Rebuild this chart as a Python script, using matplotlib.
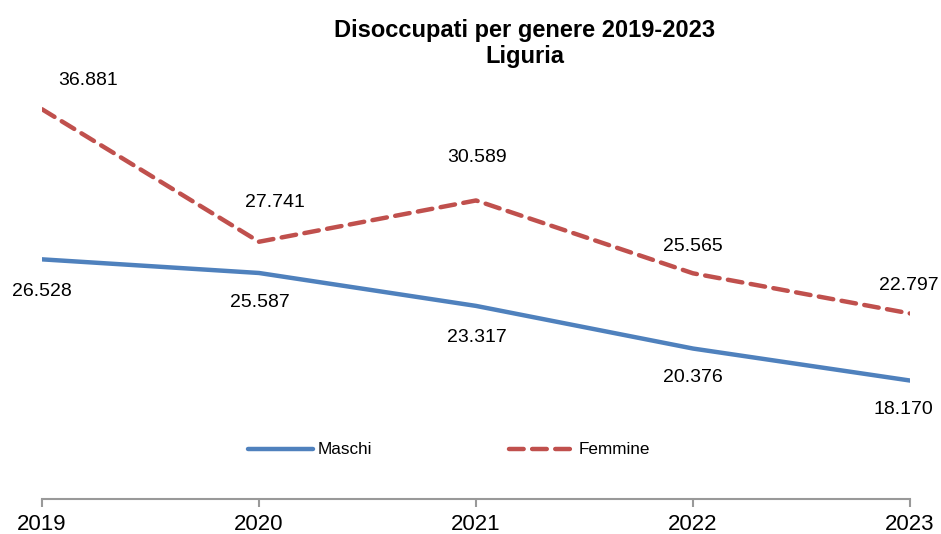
import matplotlib.pyplot as plt

plt.rcParams['font.family'] = ['Liberation Sans', 'DejaVu Sans']

# Disoccupati in Liguria per genere
anni = [2019, 2020, 2021, 2022, 2023]
maschi = [26528, 25587, 23317, 20376, 18170]
femmine = [36881, 27741, 30589, 25565, 22797]

def fmt(v):
    return f"{v:,}".replace(",", ".")

fig = plt.figure(figsize=(9.41, 5.34), dpi=100)
ax = fig.add_axes([42 / 941, 35 / 534, 868 / 941, 493 / 534])

ax.plot(anni, maschi, color='#4F81BD', lw=3.2, solid_capstyle='round', label='Maschi')
ax.plot(anni, femmine, color='#C0504D', lw=3.2, dashes=(3.3, 1.9), dash_capstyle='round',
        label='Femmine')

# etichette dei valori (spostamenti in pixel)
off_m = [(0, -32), (1, -30), (1, -32), (0, -29), (-7, -29)]
off_f = [(46, 29), (16, 39), (1, 43), (0, 27), (-1, 28)]
for x, v, o in zip(anni, maschi, off_m):
    ax.annotate(fmt(v), (x, v), xytext=o, textcoords='offset pixels',
                ha='center', va='center', fontsize=14)
for x, v, o in zip(anni, femmine, off_f):
    ax.annotate(fmt(v), (x, v), xytext=o, textcoords='offset pixels',
                ha='center', va='center', fontsize=14)

ax.set_xlim(2019, 2023)
ax.set_ylim(10000, 44000)
ax.set_xticks(anni)
ax.set_yticks([])
for s in ['top', 'right', 'left']:
    ax.spines[s].set_visible(False)
ax.spines['bottom'].set_color('#999999')
ax.spines['bottom'].set_linewidth(1.5)
ax.tick_params(axis='x', length=6, width=1.5, color='#999999', labelsize=16, pad=5)
for lab in ax.get_xticklabels():
    lab.set_clip_on(False)

ax.legend(loc='center', bbox_to_anchor=(407 / 868, (534 - 35 - 450) / 493), ncol=2,
          frameon=False, fontsize=12.3, handlelength=3.8, handletextpad=0.3,
          columnspacing=8.0)

fig.text(525 / 941, 1 - 30 / 534, 'Disoccupati per genere 2019-2023', ha='center',
         va='center', fontsize=17, fontweight='bold')
fig.text(525 / 941, 1 - 57 / 534, 'Liguria', ha='center', va='center',
         fontsize=17, fontweight='bold')

fig.savefig('out.png', dpi=100)
